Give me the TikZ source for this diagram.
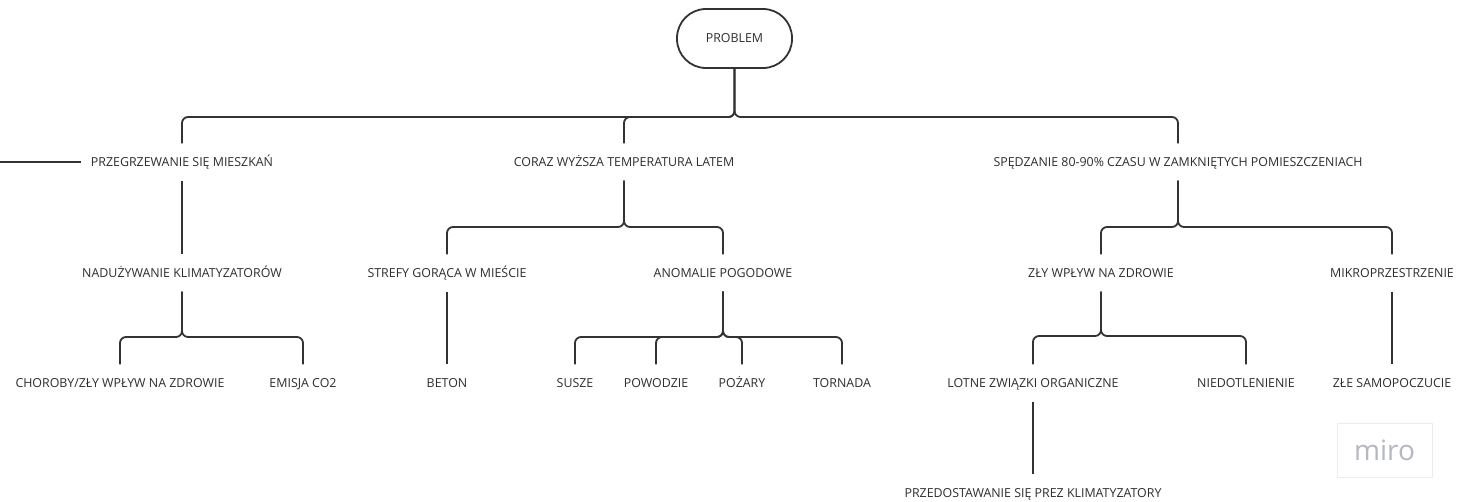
\documentclass[tikz,border=0pt]{standalone}
\usepackage{fontspec}
\setmainfont{Open Sans}
\definecolor{txt}{HTML}{2E2E2E}
\definecolor{ln}{HTML}{333333}
\definecolor{miroedge}{HTML}{ECECEC}
\definecolor{mirotxt}{HTML}{B4B8C0}
\begin{document}
\begin{tikzpicture}[x=1pt,y=-1pt,
  lbl/.style={font=\fontsize{12.4}{14}\selectfont, text=txt, inner xsep=10pt, inner ysep=0pt, text height=8.9pt, text depth=0pt, minimum height=37pt},
  conn/.style={draw=ln, line width=1.8pt, rounded corners=6pt},
  probbox/.style={draw=ln, line width=1.8pt, rounded corners=29pt, minimum width=115pt, minimum height=59pt, font=\fontsize{12.4}{14}\selectfont, text=txt},
  mirobox/.style={draw=miroedge, line width=0.8pt, minimum width=95pt, minimum height=54pt, text=mirotxt, font=\fontsize{28}{28}\selectfont}
]
\useasboundingbox[fill=white] (0,0) rectangle (1457,501);

\node[probbox] (problem) at (734.5,38.5) {PROBLEM};

\coordinate (bus) at (734,117);
\coordinate (jb) at (624,227);
\coordinate (jc) at (1178,227);
\coordinate (ja) at (182,337);
\coordinate (jd) at (723,337);
\coordinate (je) at (1101,336);
\coordinate (offl) at (0,162);

% level 1
\node[lbl] (l1a) at (182,162) {PRZEGRZEWANIE SIĘ MIESZKAŃ};
\node[lbl] (l1b) at (624,162) {CORAZ WYŻSZA TEMPERATURA LATEM};
\node[lbl] (l1c) at (1178,162) {SPĘDZANIE 80-90\% CZASU W ZAMKNIĘTYCH POMIESZCZENIACH};

% level 2
\node[lbl] (l2a) at (182,273) {NADUŻYWANIE KLIMATYZATORÓW};
\node[lbl] (l2b) at (447,273) {STREFY GORĄCA W MIEŚCIE};
\node[lbl] (l2c) at (723,273) {ANOMALIE POGODOWE};
\node[lbl] (l2d) at (1101,273) {ZŁY WPŁYW NA ZDROWIE};
\node[lbl] (l2e) at (1392,273) {MIKROPRZESTRZENIE};

% level 3
\node[lbl] (l3a) at (120,383) {CHOROBY/ZŁY WPŁYW NA ZDROWIE};
\node[lbl] (l3b) at (303,383) {EMISJA CO2};
\node[lbl] (l3c) at (447,383) {BETON};
\node[lbl] (l3d) at (575,383) {SUSZE};
\node[lbl] (l3e) at (656,383) {POWODZIE};
\node[lbl] (l3f) at (742,383) {POŻARY};
\node[lbl] (l3g) at (842,383) {TORNADA};
\node[lbl] (l3h) at (1033,383) {LOTNE ZWIĄZKI ORGANICZNE};
\node[lbl] (l3i) at (1246,383) {NIEDOTLENIENIE};
\node[lbl] (l3j) at (1392,383) {ZŁE SAMOPOCZUCIE};

% level 4
\node[lbl] (l4a) at (1033,493) {PRZEDOSTAWANIE SIĘ PREZ KLIMATYZATORY};

% watermark
\node[mirobox] (miro) at (1384.5,450) {miro};

% connectors
\draw[conn] (offl) -- (l1a.west);
\foreach \c in {l1a,l1b,l1c}
  \draw[conn] (problem.south) |- (\c.north |- bus) -- (\c.north);
\draw[conn] (l1a.south) -- (l2a.north);
\foreach \c in {l2b,l2c}
  \draw[conn] (l1b.south) |- (\c.north |- jb) -- (\c.north);
\foreach \c in {l2d,l2e}
  \draw[conn] (l1c.south) |- (\c.north |- jc) -- (\c.north);
\foreach \c in {l3a,l3b}
  \draw[conn] (l2a.south) |- (\c.north |- ja) -- (\c.north);
\draw[conn] (l2b.south) -- (l3c.north);
\foreach \c in {l3d,l3e,l3f,l3g}
  \draw[conn] (l2c.south) |- (\c.north |- jd) -- (\c.north);
\foreach \c in {l3h,l3i}
  \draw[conn] (l2d.south) |- (\c.north |- je) -- (\c.north);
\draw[conn] (l2e.south) -- (l3j.north);
\draw[conn] (l3h.south) -- (l4a.north);
\end{tikzpicture}
\end{document}
